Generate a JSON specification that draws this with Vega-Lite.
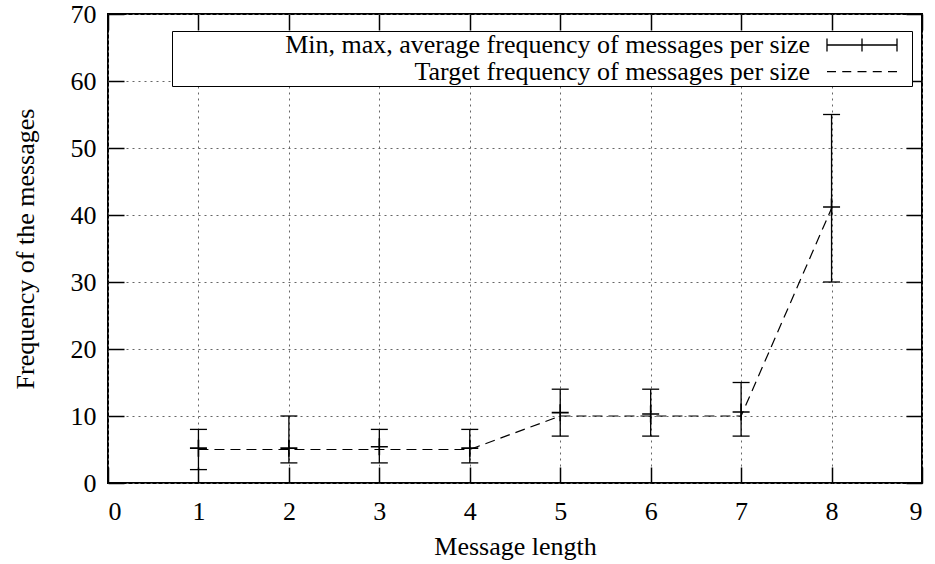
{
  "$schema": "https://vega.github.io/schema/vega-lite/v6.json",
  "width": 814,
  "height": 469,
  "autosize": "none",
  "padding": {"left": 108, "top": 14, "right": 13, "bottom": 81},
  "background": "white",
  "config": {
    "view": {"stroke": "black", "strokeWidth": 2},
    "font": "Liberation Serif",
    "axis": {
      "labelFont": "Liberation Serif",
      "labelFontSize": 26,
      "labelColor": "black",
      "titleFont": "Liberation Serif",
      "titleFontSize": 26,
      "titleFontWeight": "normal",
      "titleColor": "black",
      "tickColor": "black",
      "tickWidth": 1.5,
      "tickSize": -16,
      "domain": false,
      "gridColor": "#666666",
      "gridDash": [2, 4],
      "gridWidth": 1,
      "gridOpacity": 1
    }
  },
  "data": {
    "values": [
      {"len": 1, "min": 2, "max": 8, "avg": 5.2, "target": 5},
      {"len": 2, "min": 3, "max": 10, "avg": 5.2, "target": 5},
      {"len": 3, "min": 3, "max": 8, "avg": 5.4, "target": 5},
      {"len": 4, "min": 3, "max": 8, "avg": 5.2, "target": 5},
      {"len": 5, "min": 7, "max": 14, "avg": 10.5, "target": 10},
      {"len": 6, "min": 7, "max": 14, "avg": 10.3, "target": 10},
      {"len": 7, "min": 7, "max": 15, "avg": 10.6, "target": 10},
      {"len": 8, "min": 30, "max": 55, "avg": 41.2, "target": 41}
    ]
  },
  "layer": [
    {
      "mark": {"type": "rule", "stroke": "black", "strokeWidth": 1.3},
      "encoding": {
        "x": {"field": "len", "type": "quantitative", "scale": {"domain": [0, 9], "nice": false},
              "axis": {"orient": "bottom", "values": [0,1,2,3,4,5,6,7,8,9], "title": "Message length", "labelPadding": 31, "titlePadding": 9, "grid": true}},
        "y": {"field": "min", "type": "quantitative", "scale": {"domain": [0, 70], "nice": false},
              "axis": {"orient": "left", "values": [0,10,20,30,40,50,60,70], "title": "Frequency of the messages", "labelPadding": 28, "titlePadding": 32, "grid": true}},
        "y2": {"field": "max"}
      }
    },
    {
      "mark": {"type": "tick", "orient": "horizontal", "size": 17, "thickness": 1.3, "color": "black", "opacity": 1},
      "encoding": {
        "x": {"field": "len", "type": "quantitative", "axis": null},
        "y": {"field": "min", "type": "quantitative", "axis": null}
      }
    },
    {
      "mark": {"type": "tick", "orient": "horizontal", "size": 17, "thickness": 1.3, "color": "black", "opacity": 1},
      "encoding": {
        "x": {"field": "len", "type": "quantitative", "axis": null},
        "y": {"field": "max", "type": "quantitative", "axis": null}
      }
    },
    {
      "mark": {"type": "point", "shape": "M-1,0H1M0,-1V1", "size": 289, "stroke": "black", "strokeWidth": 1.6, "filled": false, "opacity": 1},
      "encoding": {
        "x": {"field": "len", "type": "quantitative", "axis": null},
        "y": {"field": "avg", "type": "quantitative", "axis": null}
      }
    },
    {
      "mark": {"type": "line", "stroke": "black", "strokeWidth": 1.2, "strokeDash": [10, 6]},
      "encoding": {
        "x": {"field": "len", "type": "quantitative",
              "axis": {"orient": "top", "values": [0,1,2,3,4,5,6,7,8,9], "labels": false, "title": null, "grid": false}},
        "y": {"field": "target", "type": "quantitative",
              "axis": {"orient": "right", "values": [0,10,20,30,40,50,60,70], "labels": false, "title": null, "grid": false}}
      }
    },
    {
      "mark": {"type": "point", "opacity": 0, "filled": false},
      "encoding": {
        "x": {"field": "len", "type": "quantitative", "axis": null},
        "y": {"field": "avg", "type": "quantitative", "axis": null},
        "shape": {
          "datum": "Min, max, average frequency of messages per size",
          "type": "nominal",
          "scale": {
            "domain": ["Min, max, average frequency of messages per size", "Target frequency of messages per size"],
            "range": ["M-2.917,0H2.917M-2.917,-0.542V0.542M2.917,-0.542V0.542M0,-0.542V0.542M-0.6,0H0.6M3.833,0", "M-2.917,0H-2.167M-1.646,0H-0.896M-0.375,0H0.375M0.896,0H1.646M2.167,0H2.917M3.833,0"]
          },
          "legend": {
            "orient": "none",
            "legendX": 64,
            "legendY": 17,
            "title": null,
            "fillColor": "white",
            "strokeColor": "black",
            "padding": 1,
            "labelFont": "Liberation Serif",
            "labelFontSize": 26,
            "labelColor": "black",
            "labelAlign": "right",
            "labelOffset": -65,
            "labelLimit": 0,
            "symbolOffset": 676,
            "symbolSize": 576,
            "symbolStrokeColor": "black",
            "symbolFillColor": "transparent",
            "symbolStrokeWidth": 1.3,
            "symbolOpacity": 1,
            "rowPadding": 0.7,
            "encode": {"legend": {"update": {"strokeWidth": {"value": 2}}}}
          }
        }
      }
    },
    {
      "mark": {"type": "point", "opacity": 0, "filled": false},
      "encoding": {
        "x": {"field": "len", "type": "quantitative", "axis": null},
        "y": {"field": "target", "type": "quantitative", "axis": null},
        "shape": {"datum": "Target frequency of messages per size", "type": "nominal"}
      }
    }
  ],
  "resolve": {"axis": {"x": "independent", "y": "independent"}}
}
